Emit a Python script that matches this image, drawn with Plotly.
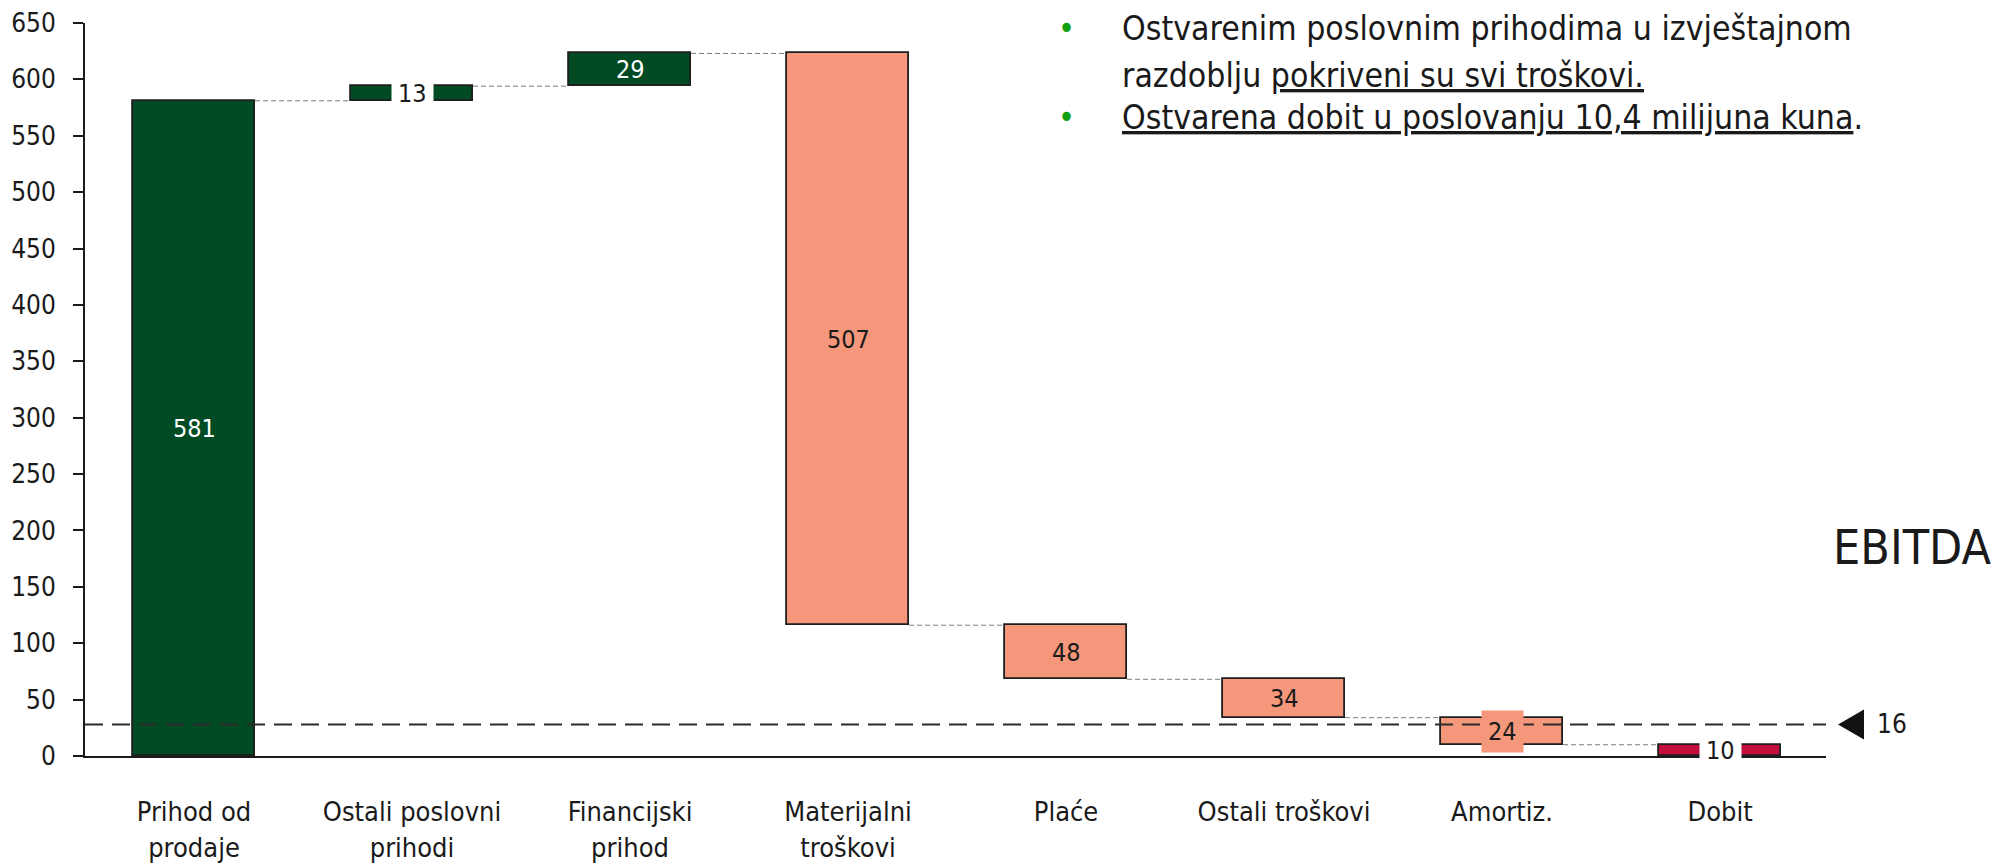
"""Waterfall of business result (mil. kn): revenues, costs and profit."""
import plotly.graph_objects as go

# ── data ──────────────────────────────────────────────────────────
categories = [
    "Prihod od<br>prodaje",
    "Ostali poslovni<br>prihodi",
    "Financijski<br>prihod",
    "Materijalni<br>troškovi",
    "Plaće",
    "Ostali troškovi",
    "Amortiz.",
    "Dobit",
]
measures = ["absolute", "relative", "relative", "relative",
            "relative", "relative", "relative", "total"]
deltas = [581, 13, 29, -507, -48, -34, -24, None]

y_ticks = [0, 50, 100, 150, 200, 250, 300, 350, 400, 450, 500, 550, 600, 650]

ebitda_level = 28
ebitda_label = "16"

bullet_lines = [
    ("•", "Ostvarenim poslovnim prihodima u izvještajnom"),
    ("", "razdoblju <u>pokriveni su svi troškovi.</u>"),
    ("•", "<u>Ostvarena dobit u poslovanju 10,4 milijuna kuna</u>."),
]

# ── styles ────────────────────────────────────────────────────────
GREEN = "#004b23"
SALMON = "#f4977a"
RED = "#c20e3a"
INK = "#1a1a1a"
FONT = "DejaVu Sans Condensed, Liberation Sans Narrow, Open Sans, sans-serif"
BAR_W = 0.56

# compute floating bar bases
bases, heights, labels, colors = [], [], [], []
running = 0
for m, d in zip(measures, deltas):
    if m == "absolute":
        bases.append(0)
        heights.append(d)
        running = d
        labels.append(d)
        colors.append(GREEN)
    elif m == "relative":
        bases.append(min(running, running + d))
        heights.append(abs(d))
        running += d
        labels.append(abs(d))
        colors.append(GREEN if d > 0 else SALMON)
    else:
        bases.append(0)
        heights.append(running)
        labels.append(running)
        colors.append(RED)

idx = list(range(len(categories)))

fig = go.Figure()

# connectors between consecutive bars
cx, cy = [], []
level = 0
for i, (m, d) in enumerate(zip(measures, deltas)):
    if m == "absolute":
        level = d
    elif m == "relative":
        level += d
    if i < len(idx) - 1:
        cx += [i + BAR_W / 2, i + 1 - BAR_W / 2, None]
        cy += [level, level, None]
fig.add_trace(go.Scatter(
    x=cx, y=cy, mode="lines",
    line=dict(color="#7a7a7a", width=1, dash="5px,3px"),
    hoverinfo="skip", showlegend=False,
))

fig.add_trace(go.Bar(
    x=idx, y=heights, base=bases, width=BAR_W,
    marker=dict(color=colors, line=dict(color="#1e1e1e", width=1.8)),
    hoverinfo="skip", showlegend=False,
))

# value labels
for i, (b, h, lab, c) in enumerate(zip(bases, heights, labels, colors)):
    small = h < 25
    if small:
        bg = SALMON if c == SALMON else "white"
        fc = INK
    else:
        bg = None
        fc = "white" if c == GREEN else INK
    fig.add_annotation(
        x=i, y=b + h / 2, text=str(lab), showarrow=False, yanchor="middle",
        font=dict(family=FONT, size=25, color=fc),
        bgcolor=bg, borderpad=6 if small else 0,
    )

# EBITDA reference line, marker and labels
fig.add_shape(
    type="line", xref="paper", x0=0, x1=1, y0=ebitda_level, y1=ebitda_level,
    line=dict(color="#2a2a2a", width=2, dash="18px,9px"),
)
fig.add_shape(
    type="path", xref="paper", yref="y", xsizemode="pixel", ysizemode="pixel",
    xanchor=1, yanchor=ebitda_level,
    path="M 12 0 L 38 15 L 38 -15 Z",
    fillcolor="#111111", line=dict(width=0),
)
fig.add_annotation(
    xref="paper", x=1.028, y=ebitda_level, xanchor="left", yanchor="middle",
    text=ebitda_label, showarrow=False,
    font=dict(family=FONT, size=26, color=INK),
)
fig.add_annotation(
    xref="paper", x=1.0029, y=185, xanchor="left", yanchor="middle",
    text="EBITDA", showarrow=False,
    font=dict(family=FONT, size=48, color=INK),
)

# bullet text top right
line_y = [0.9925, 0.929, 0.8715]
for (bullet, txt), yy in zip(bullet_lines, line_y):
    if bullet:
        fig.add_annotation(
            xref="paper", yref="paper", x=0.564, y=yy, xanchor="center",
            yanchor="middle", text=bullet, showarrow=False,
            font=dict(family=FONT, size=32, color="#12a012"),
        )
    fig.add_annotation(
        xref="paper", yref="paper", x=0.5945, y=yy, xanchor="left",
        yanchor="middle", text=txt, showarrow=False,
        font=dict(family=FONT, size=33.5, color=INK),
    )

# the page body has an 8px default margin, so the figure is laid out 8px
# up/left of where it should appear on screen
fig.update_layout(
    width=1999, height=866,
    margin=dict(l=77, r=181, t=15, b=118),
    plot_bgcolor="white", paper_bgcolor="white",
    font=dict(family=FONT, color=INK),
    bargap=0, showlegend=False,
    xaxis=dict(
        range=[-0.5, 7.486], tickmode="array", tickvals=idx, ticktext=categories,
        showgrid=False, zeroline=False, showline=True, linecolor="#1a1a1a",
        linewidth=2, ticks="", tickfont=dict(size=27, color=INK),
        ticklabelstandoff=31, automargin=False,
    ),
    yaxis=dict(
        range=[0, 650], tickmode="array", tickvals=y_ticks,
        showgrid=False, zeroline=False, showline=True, linecolor="#1a1a1a",
        linewidth=2, ticks="outside", ticklen=10, tickwidth=2,
        tickcolor="#1a1a1a", tickfont=dict(size=26, color=INK),
        ticklabelstandoff=12, automargin=False,
    ),
)

fig.write_html("out.html")
